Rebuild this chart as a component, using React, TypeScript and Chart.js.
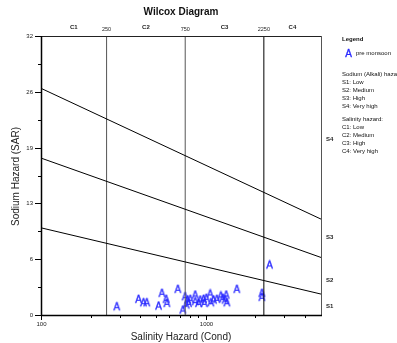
import React, { useEffect, useRef } from "react";
import { Chart, registerables } from "chart.js";

Chart.register(...registerables);

// ---- data ----
const conductivityRange = [100, 5000];
const sarRange = [0, 32];
const salinityBreaks = [250, 750, 2250];
const salinityClassLabels = ["C1", "C2", "C3", "C4"];
const sodiumClassLabels = ["S1", "S2", "S3", "S4"];
const yTickValues = [0, 6.4, 12.8, 19.2, 25.6, 32];
const xLabelledTicks = [100, 1000];
const xMinorTicks = [200, 300, 400, 500, 600, 700, 800, 900, 2000, 3000, 4000];
// SAR of each class boundary at conductivity 100 and 5000
const boundaryS1S2 = [10, 2.4];
const boundaryS2S3 = [18, 6.6];
const boundaryS3S4 = [26, 11.0];

const conductivity = [
  288, 390, 418, 438, 541, 516, 574, 580, 676, 725, 748, 773, 784, 861, 861, 902,
  967, 977, 1005, 1062, 1072, 1166, 1233, 1268, 1309, 1328, 1342, 1542, 2188, 2188,
  2433, 759, 803, 923, 1112,
];
const sar = [
  0.95, 1.8, 1.41, 1.41, 2.49, 1.03, 1.8, 1.34, 2.95, 0.57, 2.1, 1.72, 1.34, 2.29, 1.53, 1.34,
  1.8, 1.34, 1.92, 2.41, 1.41, 1.8, 2.18, 1.92, 1.72, 2.29, 1.41, 2.95, 2.49, 2.03,
  5.74, 1.15, 1.8, 1.72, 1.72,
];
const seriesName = "pre monsoon";
const legendLines = [
  "Sodium (Alkali) hazard:",
  "S1: Low",
  "S2: Medium",
  "S3: High",
  "S4: Very high",
  "",
  "Salinity hazard:",
  "C1: Low",
  "C2: Medium",
  "C3: High",
  "C4: Very high",
];

const FONT = "Arial, 'Liberation Sans', sans-serif";
const BLUE = "#2828ff";

function makeMarker(): HTMLCanvasElement {
  const c = document.createElement("canvas");
  c.width = 11;
  c.height = 11;
  const ctx = c.getContext("2d")!;
  ctx.fillStyle = BLUE;
  ctx.strokeStyle = BLUE;
  ctx.lineWidth = 0.35;
  ctx.font = `10px ${FONT}`;
  ctx.textAlign = "center";
  ctx.textBaseline = "alphabetic";
  ctx.fillText("A", 5.5, 9.1);
  ctx.strokeText("A", 5.5, 9.1);
  return c;
}

export default function App() {
  const ref = useRef<HTMLCanvasElement | null>(null);

  useEffect(() => {
    document.body.style.margin = "0";
    const canvas = ref.current!;
    const marker = makeMarker();
    const [cMin, cMax] = conductivityRange;

    const boundary = (vals: number[]) => [
      { x: cMin, y: vals[0] },
      { x: cMax, y: vals[1] },
    ];
    const lineDs = (data: any[], color: string) => ({
      type: "line" as const,
      data,
      borderColor: color,
      borderWidth: 1,
      pointRadius: 0,
      showLine: true,
      fill: false,
    });

    const decor = {
      id: "wilcoxDecor",
      afterDraw(chart: any) {
        const ctx = chart.ctx as CanvasRenderingContext2D;
        const { left, right, top, bottom } = chart.chartArea;
        const xs = chart.scales.x;
        const ys = chart.scales.y;
        ctx.save();
        // frame
        ctx.lineWidth = 1;
        ctx.strokeStyle = "#555";
        ctx.beginPath();
        ctx.moveTo(right + 0.5, top);
        ctx.lineTo(right + 0.5, bottom);
        ctx.stroke();
        ctx.strokeStyle = "#222";
        ctx.beginPath();
        ctx.moveTo(left, top + 0.5);
        ctx.lineTo(right, top + 0.5);
        ctx.stroke();
        ctx.strokeStyle = "#000";
        ctx.lineWidth = 1.5;
        ctx.beginPath();
        ctx.moveTo(left + 0.5, top);
        ctx.lineTo(left + 0.5, bottom + 1);
        ctx.moveTo(left, bottom + 0.5);
        ctx.lineTo(right + 1, bottom + 0.5);
        ctx.stroke();

        // y ticks
        ctx.lineWidth = 1;
        ctx.fillStyle = "#222";
        ctx.font = `6px ${FONT}`;
        ctx.textAlign = "right";
        ctx.textBaseline = "middle";
        yTickValues.forEach((v, i) => {
          const py = Math.round(ys.getPixelForValue(v)) + 0.5;
          ctx.beginPath();
          ctx.moveTo(left - 6, py);
          ctx.lineTo(left, py);
          ctx.stroke();
          ctx.fillText(String(Math.round(v)), left - 8, py);
          if (i < yTickValues.length - 1) {
            const m = (v + yTickValues[i + 1]) / 2;
            const pm = Math.round(ys.getPixelForValue(m)) + 0.5;
            ctx.beginPath();
            ctx.moveTo(left - 3, pm);
            ctx.lineTo(left, pm);
            ctx.stroke();
          }
        });

        // x ticks
        ctx.textAlign = "center";
        ctx.textBaseline = "top";
        xLabelledTicks.forEach((v) => {
          const px = Math.round(xs.getPixelForValue(v)) + 0.5;
          ctx.beginPath();
          ctx.moveTo(px, bottom);
          ctx.lineTo(px, bottom + 5);
          ctx.stroke();
          ctx.fillText(String(v), px, bottom + 6);
        });
        xMinorTicks.forEach((v) => {
          const px = Math.round(xs.getPixelForValue(v)) + 0.5;
          ctx.beginPath();
          ctx.moveTo(px, bottom);
          ctx.lineTo(px, bottom + 3);
          ctx.stroke();
        });

        // top labels
        ctx.textBaseline = "middle";
        salinityBreaks.forEach((v) => {
          ctx.font = `5.5px ${FONT}`;
          ctx.fillText(String(v), xs.getPixelForValue(v), top - 7);
        });
        const edges = [cMin, ...salinityBreaks, cMax];
        ctx.font = `bold 6px ${FONT}`;
        salinityClassLabels.forEach((lab, i) => {
          const mid = Math.sqrt(edges[i] * edges[i + 1]);
          ctx.fillText(lab, xs.getPixelForValue(mid), top - 9);
        });

        // right S labels
        const sAnchors = [0.95, 4.0, 8.9, 20.1];
        ctx.textAlign = "left";
        sodiumClassLabels.forEach((lab, i) => {
          ctx.fillText(lab, right + 5, ys.getPixelForValue(sAnchors[i]));
        });

        // title
        ctx.fillStyle = "#111";
        ctx.textAlign = "center";
        ctx.font = `bold 10px ${FONT}`;
        ctx.fillText("Wilcox Diagram", (left + right) / 2, 12.5);

        // axis titles
        ctx.font = `10px ${FONT}`;
        ctx.fillStyle = "#222";
        ctx.fillText("Salinity Hazard (Cond)", (left + right) / 2, 337);
        ctx.save();
        ctx.translate(16, (top + bottom) / 2 + 1);
        ctx.rotate(-Math.PI / 2);
        ctx.fillText("Sodium Hazard (SAR)", 0, 0);
        ctx.restore();

        // legend
        const lx = right + 21;
        ctx.textAlign = "left";
        ctx.fillStyle = "#111";
        ctx.font = `bold 6px ${FONT}`;
        ctx.fillText("Legend", lx, 39);
        ctx.drawImage(marker, lx + 1, 48);
        ctx.font = `6px ${FONT}`;
        ctx.fillText(seriesName, lx + 14, 53.5);
        let ly = 74;
        legendLines.forEach((t) => {
          if (t === "") {
            ly += 4;
            return;
          }
          ctx.fillText(t, lx, ly);
          ly += 8.2;
        });
        ctx.restore();
      },
    };

    const chart = new Chart(canvas, {
      type: "scatter",
      data: {
        datasets: [
          lineDs(boundary(boundaryS1S2), "#000"),
          lineDs(boundary(boundaryS2S3), "#000"),
          lineDs(boundary(boundaryS3S4), "#000"),
          ...salinityBreaks.map((b, i) =>
            lineDs(
              [
                { x: b, y: sarRange[0] },
                { x: b, y: sarRange[1] },
              ],
              i === 2 ? "#000" : "#555"
            )
          ),
          {
            label: seriesName,
            data: conductivity.map((c, i) => ({ x: c, y: sar[i] })),
            pointStyle: marker,
            pointRadius: 5,
            showLine: false,
          } as any,
        ],
      },
      options: {
        responsive: false,
        animation: false,
        layout: { padding: { left: 41, right: 76, top: 36, bottom: 28 } },
        plugins: { legend: { display: false }, tooltip: { enabled: false } },
        scales: {
          x: { type: "logarithmic", min: cMin, max: cMax, display: false },
          y: { type: "linear", min: sarRange[0], max: sarRange[1], display: false },
        },
      },
      plugins: [decor],
    } as any);
    return () => chart.destroy();
  }, []);

  return (
    <div style={{ width: 397, height: 343, overflow: "hidden", background: "#fff" }}>
      <canvas ref={ref} width={397} height={343} style={{ display: "block" }} />
    </div>
  );
}
